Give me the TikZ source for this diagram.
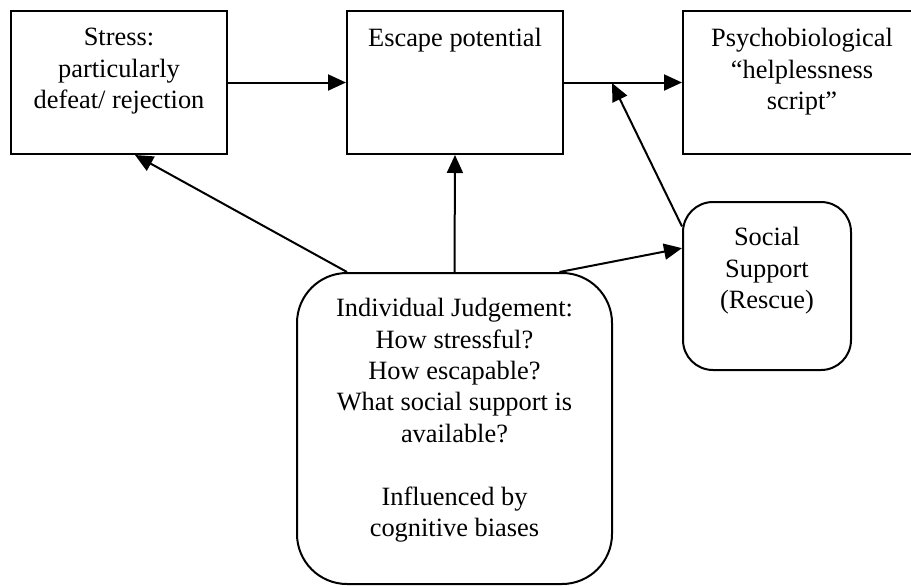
\documentclass[tikz,border=0pt]{standalone}
\usepackage{fontspec}
\setmainfont{Liberation Serif}
\usetikzlibrary{arrows.meta}

\tikzset{
  box/.style={draw, line width=1pt, inner sep=0pt},
  roundbox/.style={box, rounded corners=#1},
  txt/.style={align=center, inner sep=0pt, font=\fontsize{13.2}{15.7}\selectfont},
  link/.style={line width=1pt, -{Triangle[length=9pt,width=8pt]}}
}

\begin{document}
\begin{tikzpicture}[x=0.5pt,y=-0.5pt]
  \useasboundingbox (0,0) rectangle (911,585);

  % Top row
  \node[box, minimum width=108pt, minimum height=71.5pt] (stress) at (119,82.5) {};
  \node[txt, anchor=north] (stresstxt) at ([yshift=-9pt]stress.north)
    {Stress:\\particularly\\defeat/ rejection};

  \node[box, minimum width=108pt, minimum height=71.5pt] (escape) at (455,82.5) {};
  \node[txt, anchor=north] (escapetxt) at ([yshift=-9pt]escape.north) {Escape potential};

  \node[box, minimum width=119pt, minimum height=71.5pt] (psycho) at (802,82.5) {};
  \node[txt, anchor=north] (psychotxt) at ([yshift=-9pt]psycho.north)
    {Psychobiological\\``helplessness\\script''};

  % Social support
  \node[roundbox=15pt, minimum width=84pt, minimum height=84pt] (social) at (767,286) {};
  \node[txt, anchor=north] (socialtxt) at ([yshift=-13pt]social.north)
    {Social\\Support\\(Rescue)};

  % Individual judgement
  \node[roundbox=25pt, minimum width=157.5pt, minimum height=155.5pt] (judge) at (454.5,428.5) {};
  \node[txt, anchor=north] (judgetxt) at ([yshift=-13pt]judge.north)
    {Individual Judgement:\\How stressful?\\How escapable?\\What social support is\\available?\\[15.7pt]Influenced by\\cognitive biases};

  \coordinate (meet) at (612,83);

  % Arrows
  \draw[link] (stress.east) -- (escape.west);
  \draw[link] (escape.east) -- (psycho.west);
  \draw[link] (social.145) -- (meet);
  \draw[link] (judge.north) -- (escape.south);
  \draw[link] ([xshift=-53.75pt]judge.north) -- ([xshift=8pt]stress.south);
  \draw[link] ([xshift=52.5pt]judge.north) -- (social.156);
\end{tikzpicture}
\end{document}
